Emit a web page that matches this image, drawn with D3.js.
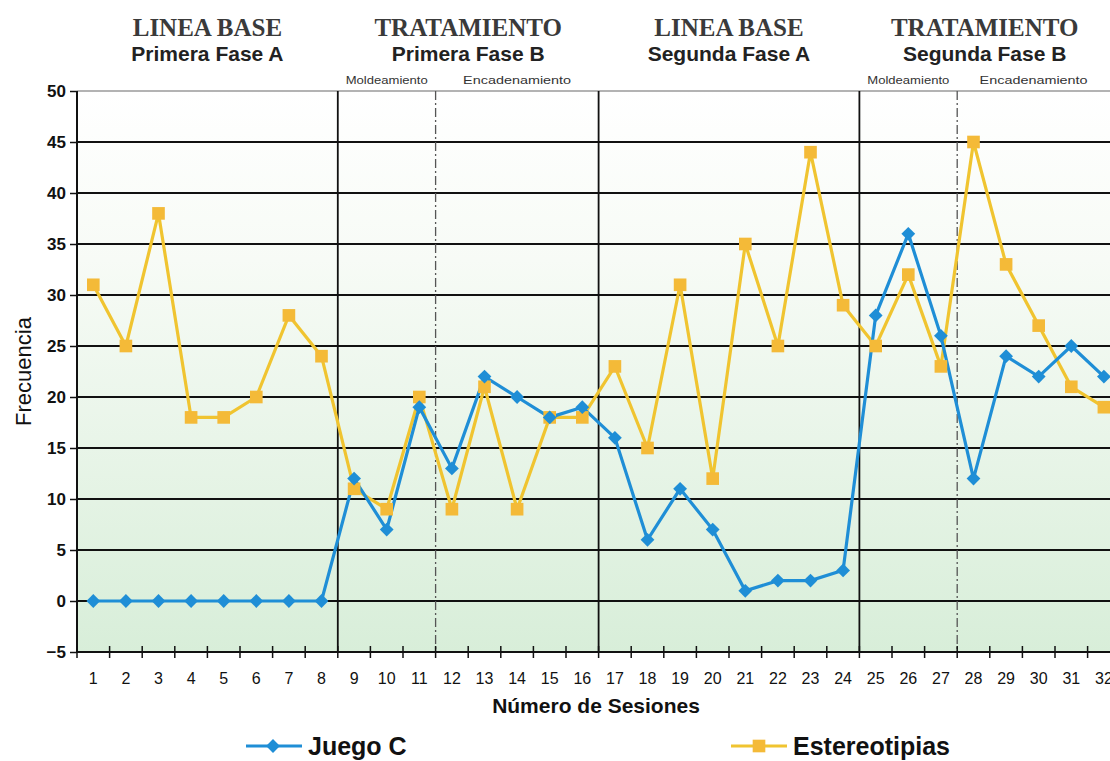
<!DOCTYPE html>
<html>
<head>
<meta charset="utf-8">
<script src="https://cdn.jsdelivr.net/npm/d3@7"></script>
<style>
  html, body { margin: 0; padding: 0; background: #ffffff; }
  svg { display: block; }
</style>
</head>
<body>
<svg id="chart" width="1110" height="761" font-family="Arial, 'Liberation Sans', sans-serif"></svg>
<script>
// Sessions 1..32
const sessions = d3.range(1, 33);
// Juego C frequency per session
const juegoC = [0, 0, 0, 0, 0, 0, 0, 0, 12, 7, 19, 13, 22, 20, 18, 19,
                16, 6, 11, 7, 1, 2, 2, 3, 28, 36, 26, 12, 24, 22, 25, 22];
// Estereotipias frequency per session
const estereotipias = [31, 25, 38, 18, 18, 20, 28, 24, 11, 9, 20, 9, 21, 9, 18, 18,
                       23, 15, 31, 12, 35, 25, 44, 29, 25, 32, 23, 45, 33, 27, 21, 19];
const yTicks = [-5, 0, 5, 10, 15, 20, 25, 30, 35, 40, 45, 50];

// Phases: first and last session of each
const phases = [
  { title: "LINEA BASE", sub: "Primera Fase A", from: 1, to: 8 },
  { title: "TRATAMIENTO", sub: "Primera Fase B", from: 9, to: 16 },
  { title: "LINEA BASE", sub: "Segunda Fase A", from: 17, to: 24 },
  { title: "TRATAMIENTO", sub: "Segunda Fase B", from: 25, to: 32 }
];
// Sub-stages inside treatment phases
const stages = [
  { label: "Moldeamiento", from: 9, to: 11 },
  { label: "Encadenamiento", from: 12, to: 16 },
  { label: "Moldeamiento", from: 25, to: 27 },
  { label: "Encadenamiento", from: 28, to: 32 }
];

const W = 1110, H = 761;
const svg = d3.select("#chart");
const plot = { left: 77, top: 91, bottom: 652 };
const bandW = 32.6;
const plotRight = plot.left + bandW * sessions.length;

const x = d3.scaleBand().domain(sessions).range([plot.left, plotRight]).paddingInner(0).paddingOuter(0);
const y = d3.scaleLinear().domain([-5, 50]).range([plot.bottom, plot.top]);
const cx = s => x(s) + x.bandwidth() / 2;
const edge = s => x(s); // left edge of a session band

// Background gradient
const defs = svg.append("defs");
const grad = defs.append("linearGradient").attr("id", "bg").attr("x1", 0).attr("y1", 0).attr("x2", 0).attr("y2", 1);
grad.append("stop").attr("offset", "0%").attr("stop-color", "#ffffff");
grad.append("stop").attr("offset", "30%").attr("stop-color", "#f7fbf6");
grad.append("stop").attr("offset", "100%").attr("stop-color", "#d8eed9");

svg.append("rect")
  .attr("x", plot.left).attr("y", y(50))
  .attr("width", plotRight - plot.left).attr("height", y(-5) - y(50))
  .attr("fill", "url(#bg)");

// Horizontal grid lines
svg.append("g").selectAll("line")
  .data(yTicks.filter(v => v > -5 && v < 50))
  .join("line")
  .attr("x1", plot.left).attr("x2", plotRight)
  .attr("y1", d => y(d)).attr("y2", d => y(d))
  .attr("stroke", "#111").attr("stroke-width", 2);
// Top border
svg.append("line")
  .attr("x1", plot.left).attr("x2", plotRight)
  .attr("y1", y(50)).attr("y2", y(50))
  .attr("stroke", "#9a9a9a").attr("stroke-width", 1.6);

// Phase separators
svg.append("g").selectAll("line")
  .data(phases.slice(1))
  .join("line")
  .attr("x1", d => edge(d.from)).attr("x2", d => edge(d.from))
  .attr("y1", y(50)).attr("y2", y(-5))
  .attr("stroke", "#111").attr("stroke-width", 1.8);
// Stage separators (dash-dot)
svg.append("g").selectAll("line")
  .data(stages.filter(s => s.label === "Encadenamiento"))
  .join("line")
  .attr("x1", d => edge(d.from)).attr("x2", d => edge(d.from))
  .attr("y1", y(50)).attr("y2", y(-5))
  .attr("stroke", "#555").attr("stroke-width", 1.3)
  .attr("stroke-dasharray", "9,3,2,3");

// Y axis
const yAxis = d3.axisLeft(y).tickValues(yTicks).tickSize(7).tickPadding(4);
const gy = svg.append("g").attr("transform", `translate(${plot.left},0)`).call(yAxis);
gy.attr("font-family", null).attr("font-size", null);
gy.select(".domain").attr("stroke", "#111").attr("stroke-width", 2).attr("d", `M0,${y(50)}V${y(-5)}`);
gy.selectAll(".tick line").attr("stroke", "#111").attr("stroke-width", 1.5);
gy.selectAll(".tick text").attr("font-size", 17).attr("font-weight", "bold").attr("fill", "#111");

// X axis at y = -5, ticks at band edges crossing the axis
const xAxisG = svg.append("g");
xAxisG.append("line")
  .attr("x1", plot.left).attr("x2", plotRight)
  .attr("y1", y(-5)).attr("y2", y(-5))
  .attr("stroke", "#111").attr("stroke-width", 2);
xAxisG.selectAll("line.tk")
  .data(sessions.concat([33]))
  .join("line").attr("class", "tk")
  .attr("x1", d => plot.left + (d - 1) * bandW).attr("x2", d => plot.left + (d - 1) * bandW)
  .attr("y1", y(-5) - 6).attr("y2", y(-5) + 6)
  .attr("stroke", "#111").attr("stroke-width", 1.5);
xAxisG.selectAll("text")
  .data(sessions)
  .join("text")
  .attr("x", d => cx(d)).attr("y", y(-5) + 32)
  .attr("text-anchor", "middle")
  .attr("font-size", 16).attr("fill", "#111")
  .text(d => d);

// Axis titles
svg.append("text")
  .attr("x", 596).attr("y", 713)
  .attr("text-anchor", "middle")
  .attr("font-size", 21).attr("font-weight", "bold").attr("fill", "#111")
  .text("Número de Sesiones");
svg.append("text")
  .attr("transform", `translate(31,${(y(50) + y(-5)) / 2}) rotate(-90)`)
  .attr("text-anchor", "middle")
  .attr("font-size", 22).attr("fill", "#111")
  .text("Frecuencia");

// Phase headers
const phaseCenter = p => (edge(p.from) + Math.min(edge(p.to) + bandW, W)) / 2;
svg.append("g").selectAll("text")
  .data(phases)
  .join("text")
  .attr("x", phaseCenter).attr("y", 36)
  .attr("text-anchor", "middle")
  .attr("font-family", "'Liberation Serif', 'Times New Roman', serif")
  .attr("font-size", 25).attr("font-weight", "bold").attr("fill", "#3a3a3a")
  .text(d => d.title);
svg.append("g").selectAll("text")
  .data(phases)
  .join("text")
  .attr("x", phaseCenter).attr("y", 61)
  .attr("text-anchor", "middle")
  .attr("font-size", 21).attr("font-weight", "bold").attr("fill", "#222")
  .text(d => d.sub);
svg.append("g").selectAll("text")
  .data(stages)
  .join("text")
  .attr("x", d => (edge(d.from) + Math.min(edge(d.to) + bandW, W)) / 2).attr("y", 84)
  .attr("text-anchor", "middle")
  .attr("font-size", 10.5).attr("fill", "#333")
  .attr("textLength", d => d.label === "Moldeamiento" ? 82 : 108)
  .attr("lengthAdjust", "spacingAndGlyphs")
  .text(d => d.label);

// Series
const blue = "#1f8ed6";
const yellowLine = "#f0c430";
const yellowFill = "#f4ba38";
const line = d3.line().x((d, i) => cx(sessions[i])).y(d => y(d));
const square = d3.symbol().type(d3.symbolSquare);

svg.append("path").datum(estereotipias).attr("d", line)
  .attr("fill", "none").attr("stroke", yellowLine).attr("stroke-width", 3.2);
svg.append("path").datum(juegoC).attr("d", line)
  .attr("fill", "none").attr("stroke", blue).attr("stroke-width", 3.2);

svg.append("g").selectAll("path")
  .data(estereotipias)
  .join("path")
  .attr("transform", (d, i) => `translate(${cx(sessions[i])},${y(d)})`)
  .attr("d", square.size(160)()).attr("fill", yellowFill);
svg.append("g").selectAll("path")
  .data(juegoC)
  .join("path")
  .attr("transform", (d, i) => `translate(${cx(sessions[i])},${y(d)}) rotate(45)`)
  .attr("d", square.size(95)()).attr("fill", blue);

// Legend
const legend = [
  { name: "Juego C", color: blue, x: 246, kind: "diamond" },
  { name: "Estereotipias", color: yellowLine, x: 731, kind: "square" }
];
const lg = svg.append("g").selectAll("g").data(legend).join("g")
  .attr("transform", d => `translate(${d.x},746)`);
lg.append("line").attr("x1", 0).attr("x2", 56).attr("y1", 0).attr("y2", 0)
  .attr("stroke", d => d.color).attr("stroke-width", 3);
lg.append("path")
  .attr("transform", d => d.kind === "diamond" ? "translate(27,0) rotate(45)" : "translate(28,0)")
  .attr("d", d => square.size(d.kind === "diamond" ? 95 : 160)())
  .attr("fill", d => d.kind === "diamond" ? blue : yellowFill);
lg.append("text").attr("x", 62).attr("y", 9)
  .attr("font-size", 25).attr("font-weight", "bold").attr("fill", "#111")
  .text(d => d.name);
</script>
</body>
</html>
